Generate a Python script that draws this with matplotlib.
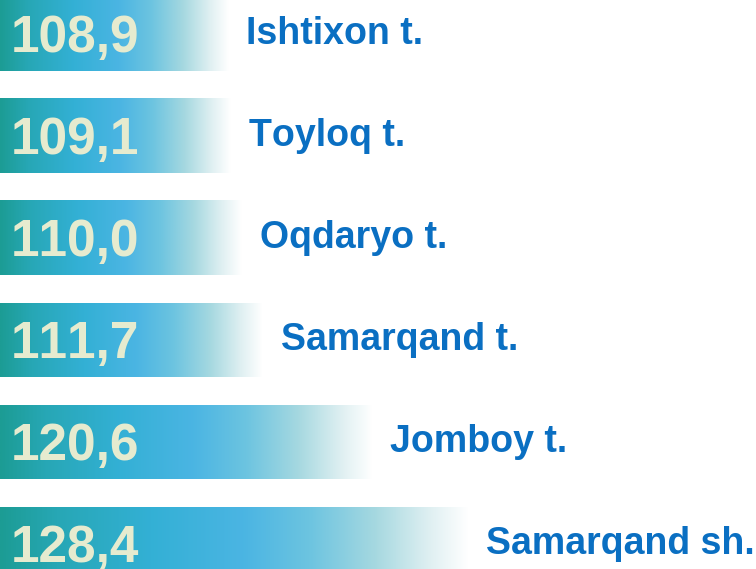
import numpy as np
import matplotlib
matplotlib.use("Agg")
import matplotlib.pyplot as plt
from matplotlib.colors import LinearSegmentedColormap

# growth index by district, %
districts = ["Ishtixon t.", "Toyloq t.", "Oqdaryo t.", "Samarqand t.", "Jomboy t.", "Samarqand sh."]
values = [108.9, 109.1, 110.0, 111.7, 120.6, 128.4]
value_labels = ["108,9", "109,1", "110,0", "111,7", "120,6", "128,4"]

# the original numbers are set without pair kerning ("111" stays evenly spaced)
plt.rcParams["text.kerning_factor"] = 12

# teal -> blue -> white fade along each bar
bar_cmap = LinearSegmentedColormap.from_list("fade", [
    (0.00, "#1c9c94"),
    (0.12, "#27a7b5"),
    (0.32, "#33b0d5"),
    (0.52, "#4bb5e3"),
    (0.66, "#6cc4e0"),
    (0.80, "#a5d8e0"),
    (0.92, "#e0f0f2"),
    (1.00, "#ffffff"),
])

fig = plt.figure(figsize=(7.56, 5.69), dpi=100)
ax = fig.add_axes([0, 0, 1, 1])
ax.set_xlim(90.35, 151.8)
ax.set_ylim(5.245, -0.333)
ax.axis("off")

ypos = np.arange(len(values))
bar_h = 0.735
bars = ax.barh(ypos, values, height=bar_h, color="none", edgecolor="none")

grad = np.linspace(0, 1, 256).reshape(1, -1)
x0 = ax.get_xlim()[0]
for y, v, bar in zip(ypos, values, bars):
    im = ax.imshow(grad, cmap=bar_cmap, aspect="auto", interpolation="bilinear",
                   extent=(x0, v, y + bar_h / 2, y - bar_h / 2))
    im.set_clip_path(bar)

for y, v, lab, name in zip(ypos, values, value_labels, districts):
    ax.annotate(lab, xy=(x0, y), xytext=(8, -3), textcoords="offset points",
                ha="left", va="center", fontsize=37, fontweight="bold",
                family="Liberation Sans", color="#e6ebcf")
    ax.annotate(name, xy=(v, y), xytext=(13, 0), textcoords="offset points",
                ha="left", va="center", fontsize=27, fontweight="bold",
                family="Liberation Sans", color="#0a6fc2")

ax.set_ylim(5.245, -0.333)
ax.set_xlim(90.35, 151.8)
fig.savefig("out.png", dpi=100)
